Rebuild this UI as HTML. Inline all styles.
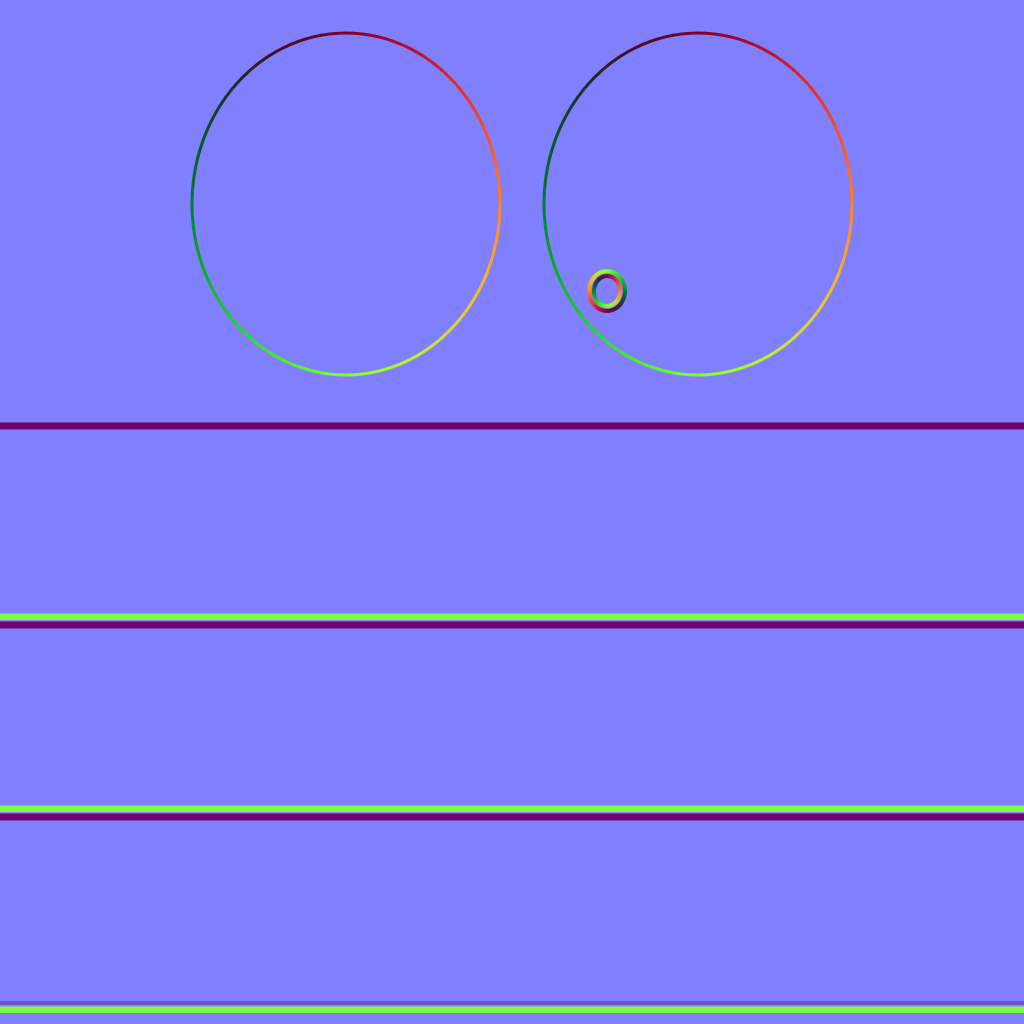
<!DOCTYPE html>
<html><head><meta charset="utf-8"><style>
html,body{margin:0;padding:0;background:#8080ff;}
svg{display:block}
</style></head><body>
<svg id="s" width="1024" height="1024">
<rect width="1024" height="1024" fill="#8080ff"/>
<g id="lines"></g>
<g id="rings"></g>
</svg>
<script>
const lineY=[421,620,812,1013];
const lineHasGreen=[false,true,true,true];
const lineHasPurple=[true,true,true,false];
const ellipseCx=[346,698];
const ellipseCy=[204,204];
const ellipseRx=[154,154];
const ellipseRy=[171,171];
const NS='http://www.w3.org/2000/svg';
const L=document.getElementById('lines');
function rect(x,y,w,h,c,name){const r=document.createElementNS(NS,'rect');r.setAttribute('x',x);r.setAttribute('y',y);r.setAttribute('width',w);r.setAttribute('height',h);r.setAttribute('fill',c);


L.appendChild(r);}
lineY.forEach((y,i)=>{
 if(lineHasGreen[i]){rect(0,y-6,1024,6,'#80ff40','groove-highlight');rect(0,y-7,1024,1,'#80c0a0','groove-edge');}
 if(lineHasPurple[i]){rect(0,y+2,1024,6,'#700070','groove-shadow');rect(0,y+1,1024,1,'#7040a0','groove-edge');rect(0,y+8,1024,1,'#7050c0','groove-edge');}
 if(!lineHasPurple[i]){rect(0,y-12,1024,4,'#7050e0','groove-shadow');}
});
const R=document.getElementById('rings');
function col(nx,ny){
 const r=Math.round(128+127*nx),g=Math.round(128-127*ny);return `rgb(${r},${g},40)`;}
function ring(cx,cy,rx,ry,w,inward,name){
 const N=120;
 for(let k=0;k<N;k++){
  const a0=k/N*2*Math.PI,a1=(k+1.05)/N*2*Math.PI;
  const am=(a0+a1)/2;
  let nx=Math.cos(am)/rx,ny=Math.sin(am)/ry;const m=Math.hypot(nx,ny);nx/=m;ny/=m;
  if(inward){nx=-nx;ny=-ny;}
  const p=document.createElementNS(NS,'line');
  p.setAttribute('x1',cx+rx*Math.cos(a0));p.setAttribute('y1',cy-ry*Math.sin(a0));
  p.setAttribute('x2',cx+rx*Math.cos(a1));p.setAttribute('y2',cy-ry*Math.sin(a1));
  p.setAttribute('stroke',col(nx,ny));p.setAttribute('stroke-width',w);
  
  
  R.appendChild(p);
 }
}
ellipseCx.forEach((cx,i)=>ring(cx,ellipseCy[i],ellipseRx[i],ellipseRy[i],3,false,'ellipse-ring'));
ring(607,291,18,20,4,true,'small-ring-outer');
ring(607,291,13,15,4,false,'small-ring-inner');
</script>
</body></html>
